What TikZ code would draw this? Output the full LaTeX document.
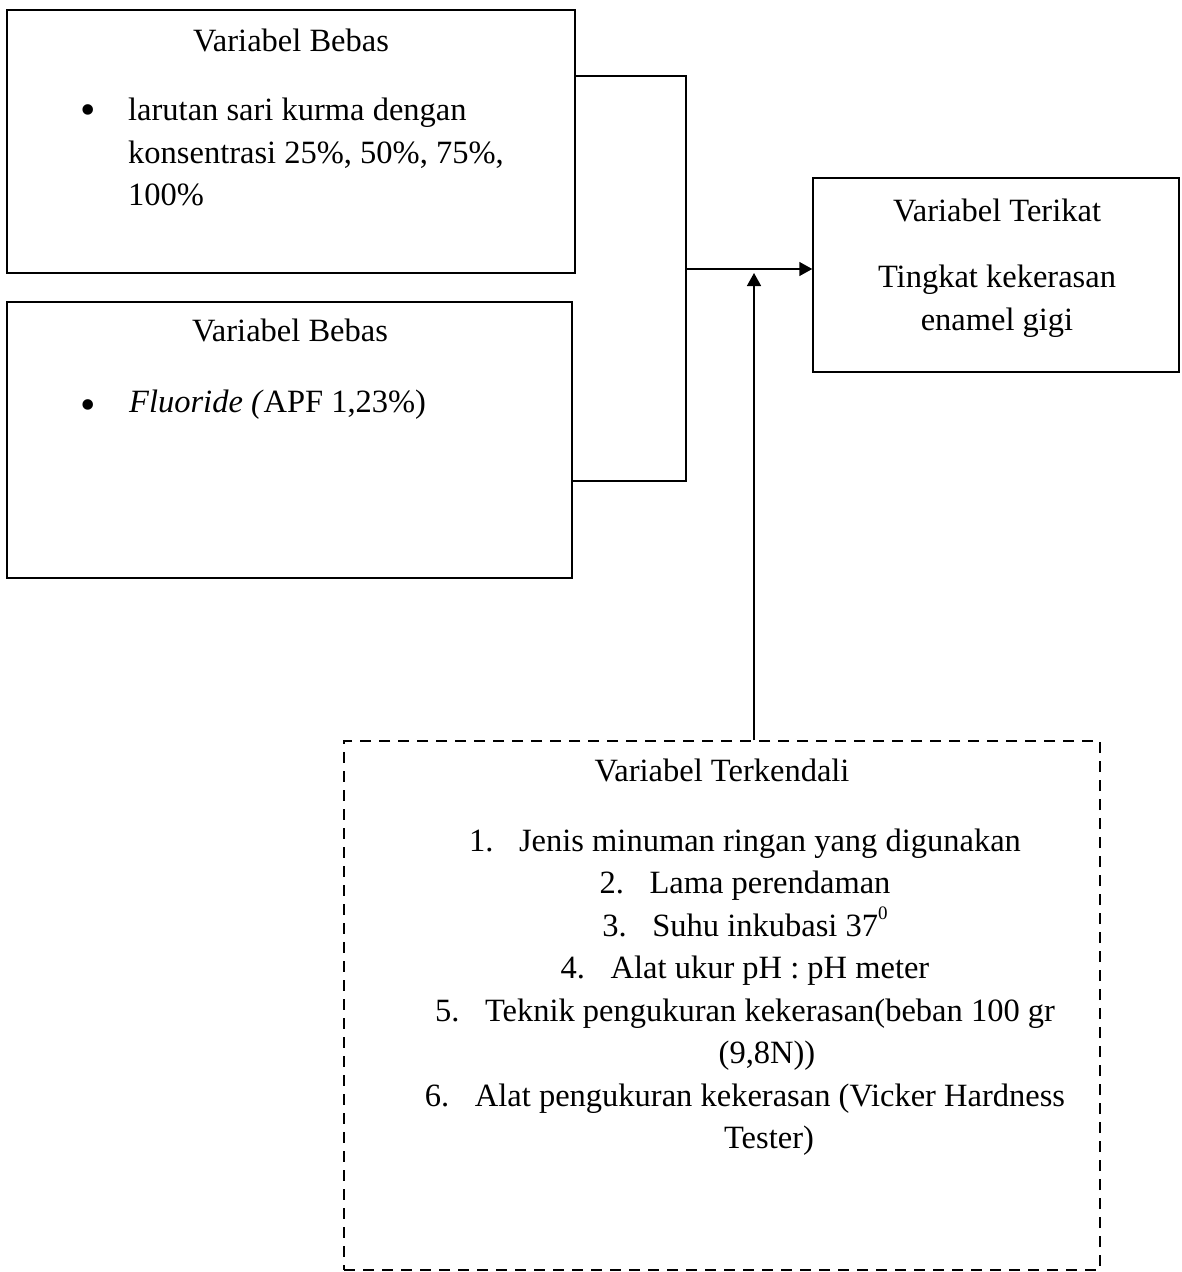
\documentclass[tikz,border=0pt]{standalone}
\usepackage{fontspec}
\setmainfont{Liberation Serif}
\usetikzlibrary{arrows.meta}
\newcommand{\degsup}[1]{\raisebox{0.52em}{\fontsize{19}{19}\selectfont #1}}
\begin{document}
\begin{tikzpicture}[x=1pt,y=-1pt,
  box/.style={draw, line width=1.5pt, inner sep=0pt},
  dbox/.style={draw, line width=1.5pt, dash pattern=on 11pt off 8pt, inner sep=0pt},
  txt/.style={font=\fontsize{32.5}{42.5}\selectfont, inner sep=0pt},
  bul/.style={font=\fontsize{44}{44}\selectfont, inner sep=0pt},
  conn/.style={line width=1.5pt},
  arr/.style={conn, -{Triangle[length=13pt,width=14pt]}}]
\useasboundingbox (0,0) rectangle (1181,1272);
% boxes
\node[box, minimum width=568pt, minimum height=263pt] (b1) at (291,141.5) {};
\node[box, minimum width=565pt, minimum height=276pt] (b2) at (289.5,440) {};
\node[box, minimum width=366pt, minimum height=194pt] (b3) at (996,275) {};
\node[dbox, minimum width=756pt, minimum height=529pt] (b4) at (722,1005.5) {};
% texts box 1
\node[txt] (t1) at (291,40) {Variabel Bebas};
\node[bul] (u1) at (88,115) {•};
\node[txt, anchor=west, align=left] (l1) at (128,152) {larutan sari kurma dengan\\konsentrasi 25\%, 50\%, 75\%,\\100\%};
% texts box 2
\node[txt] (t2) at (290,330) {Variabel Bebas};
\node[bul] (u2) at (88,410) {•};
\node[txt, anchor=west] (l2) at (129,405) {\textit{Fluoride (}APF 1,23\%)};
% texts box 3
\node[txt] (t3) at (997,210) {Variabel Terikat};
\node[txt, align=center] (l3) at (997,301) {Tingkat kekerasan\\enamel gigi};
% texts dashed box
\node[txt] (t4) at (722,770) {Variabel Terkendali};
\node[txt, align=center] (l4) at (745,992) {%
\makebox[50pt][l]{1.}Jenis minuman ringan yang digunakan\\
\makebox[50pt][l]{2.}Lama perendaman\\
\makebox[50pt][l]{3.}Suhu inkubasi 37\degsup{0}\\
\makebox[50pt][l]{4.}Alat ukur pH : pH meter\\
\makebox[50pt][l]{5.}Teknik pengukuran kekerasan(beban 100 gr\\
\hspace*{44pt}(9,8N))\\
\makebox[50pt][l]{6.}Alat pengukuran kekerasan (Vicker Hardness\\
\hspace*{48pt}Tester)};
% connectors
\coordinate (jtop) at (686,76);
\coordinate (jbot) at (686,481);
\coordinate (jmid) at (686,269);
\coordinate (up) at (754,273);
\draw[conn] (b1.east |- jtop) -- (jtop) -- (jbot) -- (b2.east |- jbot);
\draw[arr] (jmid) -- (b3.west |- jmid);
\draw[arr] (b4.north -| up) -- (up);
\end{tikzpicture}
\end{document}
